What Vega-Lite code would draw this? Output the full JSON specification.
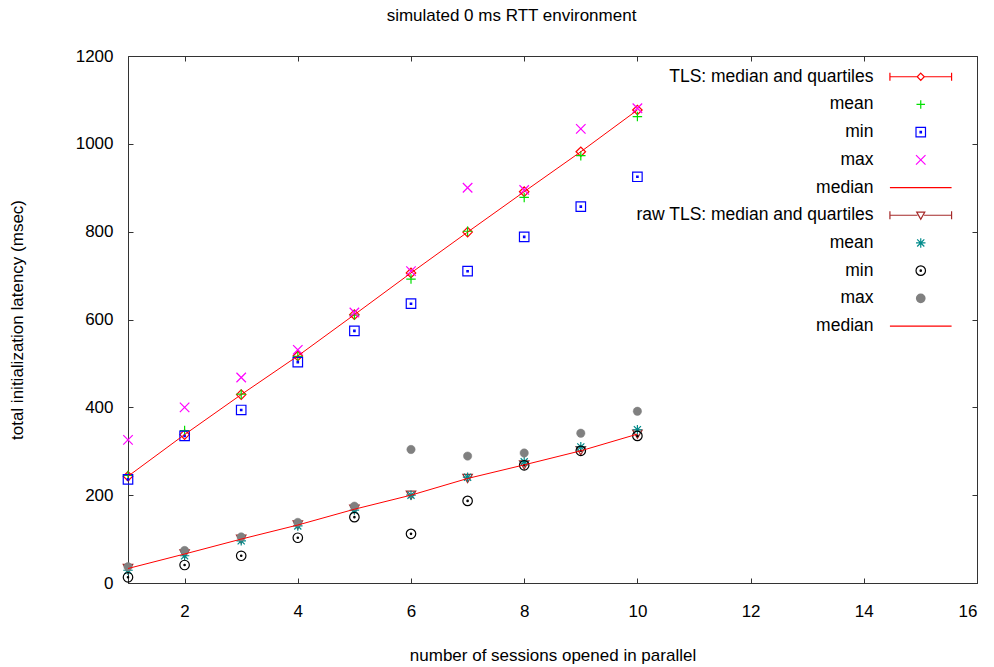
{
  "$schema": "https://vega.github.io/schema/vega-lite/v6.json",
  "autosize": "none",
  "width": 849,
  "height": 527,
  "padding": {"left": 128, "top": 56, "right": 17, "bottom": 84},
  "background": "white",
  "title": {"text": "simulated 0 ms RTT environment", "fontSize": 17, "fontWeight": "normal", "font": "Liberation Sans", "color": "#000", "anchor": "middle", "dx": -41, "baseline": "alphabetic", "offset": 9},
  "config": {
    "font": "Liberation Sans",
    "view": {"stroke": "#333", "strokeWidth": 1},
    "axis": {"grid": false, "domainColor": "#333", "tickColor": "#333", "labelColor": "#000", "titleColor": "#000", "labelFontSize": 17, "titleFontSize": 17, "titleFontWeight": "normal", "labelFont": "Liberation Sans", "titleFont": "Liberation Sans", "tickSize": -5}
  },
  "data": {"values": [
    {"n": 1, "key": "TLS: median and quartiles", "v": 243},
    {"n": 2, "key": "TLS: median and quartiles", "v": 338},
    {"n": 3, "key": "TLS: median and quartiles", "v": 429},
    {"n": 4, "key": "TLS: median and quartiles", "v": 517},
    {"n": 5, "key": "TLS: median and quartiles", "v": 611},
    {"n": 6, "key": "TLS: median and quartiles", "v": 706},
    {"n": 7, "key": "TLS: median and quartiles", "v": 799},
    {"n": 8, "key": "TLS: median and quartiles", "v": 891},
    {"n": 9, "key": "TLS: median and quartiles", "v": 982},
    {"n": 10, "key": "TLS: median and quartiles", "v": 1077},
    {"n": 1, "key": "TLS|mean", "v": 245},
    {"n": 2, "key": "TLS|mean", "v": 347},
    {"n": 3, "key": "TLS|mean", "v": 430},
    {"n": 4, "key": "TLS|mean", "v": 516},
    {"n": 5, "key": "TLS|mean", "v": 610},
    {"n": 6, "key": "TLS|mean", "v": 692},
    {"n": 7, "key": "TLS|mean", "v": 801},
    {"n": 8, "key": "TLS|mean", "v": 878},
    {"n": 9, "key": "TLS|mean", "v": 973},
    {"n": 10, "key": "TLS|mean", "v": 1062},
    {"n": 1, "key": "TLS|min", "v": 236},
    {"n": 2, "key": "TLS|min", "v": 335},
    {"n": 3, "key": "TLS|min", "v": 394},
    {"n": 4, "key": "TLS|min", "v": 503},
    {"n": 5, "key": "TLS|min", "v": 574},
    {"n": 6, "key": "TLS|min", "v": 636},
    {"n": 7, "key": "TLS|min", "v": 710},
    {"n": 8, "key": "TLS|min", "v": 788},
    {"n": 9, "key": "TLS|min", "v": 857},
    {"n": 10, "key": "TLS|min", "v": 925},
    {"n": 1, "key": "TLS|max", "v": 326},
    {"n": 2, "key": "TLS|max", "v": 400},
    {"n": 3, "key": "TLS|max", "v": 468},
    {"n": 4, "key": "TLS|max", "v": 531},
    {"n": 5, "key": "TLS|max", "v": 616},
    {"n": 6, "key": "TLS|max", "v": 710},
    {"n": 7, "key": "TLS|max", "v": 900},
    {"n": 8, "key": "TLS|max", "v": 895},
    {"n": 9, "key": "TLS|max", "v": 1034},
    {"n": 10, "key": "TLS|max", "v": 1081},
    {"n": 1, "key": "raw TLS: median and quartiles", "v": 33},
    {"n": 2, "key": "raw TLS: median and quartiles", "v": 66},
    {"n": 3, "key": "raw TLS: median and quartiles", "v": 100},
    {"n": 4, "key": "raw TLS: median and quartiles", "v": 132},
    {"n": 5, "key": "raw TLS: median and quartiles", "v": 168},
    {"n": 6, "key": "raw TLS: median and quartiles", "v": 200},
    {"n": 7, "key": "raw TLS: median and quartiles", "v": 238},
    {"n": 8, "key": "raw TLS: median and quartiles", "v": 269},
    {"n": 9, "key": "raw TLS: median and quartiles", "v": 301},
    {"n": 10, "key": "raw TLS: median and quartiles", "v": 339},
    {"n": 1, "key": "raw|mean", "v": 29},
    {"n": 2, "key": "raw|mean", "v": 62},
    {"n": 3, "key": "raw|mean", "v": 96},
    {"n": 4, "key": "raw|mean", "v": 130},
    {"n": 5, "key": "raw|mean", "v": 166},
    {"n": 6, "key": "raw|mean", "v": 200},
    {"n": 7, "key": "raw|mean", "v": 241},
    {"n": 8, "key": "raw|mean", "v": 276},
    {"n": 9, "key": "raw|mean", "v": 310},
    {"n": 10, "key": "raw|mean", "v": 349},
    {"n": 1, "key": "raw|min", "v": 13},
    {"n": 2, "key": "raw|min", "v": 41},
    {"n": 3, "key": "raw|min", "v": 62},
    {"n": 4, "key": "raw|min", "v": 103},
    {"n": 5, "key": "raw|min", "v": 150},
    {"n": 6, "key": "raw|min", "v": 112},
    {"n": 7, "key": "raw|min", "v": 187},
    {"n": 8, "key": "raw|min", "v": 268},
    {"n": 9, "key": "raw|min", "v": 301},
    {"n": 10, "key": "raw|min", "v": 335},
    {"n": 1, "key": "raw|max", "v": 37},
    {"n": 2, "key": "raw|max", "v": 74},
    {"n": 3, "key": "raw|max", "v": 105},
    {"n": 4, "key": "raw|max", "v": 138},
    {"n": 5, "key": "raw|max", "v": 175},
    {"n": 6, "key": "raw|max", "v": 304},
    {"n": 7, "key": "raw|max", "v": 289},
    {"n": 8, "key": "raw|max", "v": 296},
    {"n": 9, "key": "raw|max", "v": 341},
    {"n": 10, "key": "raw|max", "v": 391}
  ]},
  "resolve": {"axis": {"x": "independent", "y": "independent"}},
  "layer": [
    {
      "transform": [{"filter": "datum.key !== 'raw|max'"}],
      "mark": {"type": "point", "filled": false, "size": 90, "strokeWidth": 1.2, "opacity": 1},
      "encoding": {
        "x": {"field": "n", "type": "quantitative", "scale": {"domain": [1, 16], "nice": false, "zero": false},
              "axis": {"orient": "bottom", "values": [2, 4, 6, 8, 10, 12, 14, 16], "labelPadding": 25, "title": "number of sessions opened in parallel", "titlePadding": 28}},
        "y": {"field": "v", "type": "quantitative", "scale": {"domain": [0, 1200], "nice": false},
              "axis": {"orient": "left", "values": [0, 200, 400, 600, 800, 1000, 1200], "format": "d", "labelPadding": 20, "title": "total initialization latency (msec)", "titlePadding": 49}},
        "stroke": {"field": "key", "type": "nominal",
          "scale": {
            "domain": ["TLS: median and quartiles", "TLS|mean", "TLS|min", "TLS|max", "TLS|median", "raw TLS: median and quartiles", "raw|mean", "raw|min", "raw|max", "raw|median"],
            "range": ["#ff0000", "#00e000", "#0000ff", "#ff00ff", "#ff0000", "#a52a2a", "#008b8b", "#000000", "#808080", "#ff0000"]
          },
          "legend": {
            "title": null,
            "orient": "none",
            "legendX": 784,
            "legendY": 12,
            "padding": 0,
            "rowPadding": 8.7,
            "symbolSize": 90,
            "symbolStrokeWidth": 1.2,
            "symbolType": {"expr": "datum.value === 'TLS: median and quartiles' ? 'M-6.5,0H-0.75M0.75,0H6.5M-6.5,-0.85V0.85M6.5,-0.85V0.85M0,-0.75L0.75,0L0,0.75L-0.75,0Z' : datum.value === 'raw TLS: median and quartiles' ? 'M-6.5,0H-0.7M0.7,0H6.5M-6.5,-0.85V0.85M6.5,-0.85V0.85M-0.85,-0.65L0.85,-0.65L0,0.85Z' : (datum.value === 'TLS|median' || datum.value === 'raw|median') ? 'M-6.5,0H6.5' : datum.value === 'TLS|mean' ? 'M-0.9,0H0.9M0,-0.9V0.9' : datum.value === 'TLS|min' ? 'M-1,-1H1V1H-1ZM-0.15,-0.15H0.15V0.15H-0.15Z' : datum.value === 'TLS|max' ? 'M-1,-1L1,1M-1,1L1,-1' : datum.value === 'raw|mean' ? 'M-1,0H1M0,-1V1M-0.75,-0.75L0.75,0.75M-0.75,0.75L0.75,-0.75' : datum.value === 'raw|min' ? 'M-1,0A1,1,0,1,0,1,0A1,1,0,1,0,-1,0ZM-0.15,0A0.15,0.15,0,1,0,0.15,0A0.15,0.15,0,1,0,-0.15,0Z' : 'M-0.9,0A0.9,0.9,0,1,0,0.9,0A0.9,0.9,0,1,0,-0.9,0ZM-0.7,0A0.7,0.7,0,1,0,0.7,0A0.7,0.7,0,1,0,-0.7,0ZM-0.5,0A0.5,0.5,0,1,0,0.5,0A0.5,0.5,0,1,0,-0.5,0ZM-0.3,0A0.3,0.3,0,1,0,0.3,0A0.3,0.3,0,1,0,-0.3,0ZM-0.12,0A0.12,0.12,0,1,0,0.12,0A0.12,0.12,0,1,0,-0.12,0Z'"},
            "symbolFillColor": {"expr": "datum.value === 'raw|max' ? '#808080' : 'transparent'"},
            "labelAlign": "right",
            "labelOffset": -56,
            "labelLimit": 400,
            "labelFontSize": 17.5,
            "labelFont": "Liberation Sans",
            "labelColor": "#000",
            "labelExpr": "indexof(datum.label, '|') >= 0 ? split(datum.label, '|')[1] : datum.label"
          }
        },
        "shape": {"field": "key", "type": "nominal", "legend": null,
          "scale": {
            "domain": ["TLS: median and quartiles", "TLS|mean", "TLS|min", "TLS|max", "raw TLS: median and quartiles", "raw|mean", "raw|min", "raw|max"],
            "range": ["diamond", "M-1,0H1M0,-1V1", "M-1,-1H1V1H-1ZM-0.15,-0.15H0.15V0.15H-0.15Z", "M-1,-1L1,1M-1,1L1,-1", "triangle-down", "M-1,0H1M0,-1V1M-0.75,-0.75L0.75,0.75M-0.75,0.75L0.75,-0.75", "M-1,0A1,1,0,1,0,1,0A1,1,0,1,0,-1,0ZM-0.15,0A0.15,0.15,0,1,0,0.15,0A0.15,0.15,0,1,0,-0.15,0Z", "circle"]
          }
        }
      }
    },
    {
      "transform": [{"filter": "datum.key === 'raw|max'"}],
      "mark": {"type": "point", "filled": true, "fill": "#808080", "size": 70, "strokeWidth": 0.5, "opacity": 1},
      "encoding": {
        "x": {"field": "n", "type": "quantitative", "axis": null},
        "y": {"field": "v", "type": "quantitative", "axis": null},
        "stroke": {"field": "key", "type": "nominal", "legend": null},
        "shape": {"field": "key", "type": "nominal", "legend": null}
      }
    },
    {
      "transform": [{"filter": "datum.key === 'TLS: median and quartiles'"}],
      "mark": {"type": "line", "strokeWidth": 1},
      "encoding": {
        "x": {"field": "n", "type": "quantitative", "axis": {"orient": "top", "labels": false, "title": null, "domain": false, "values": [2, 4, 6, 8, 10, 12, 14, 16]}},
        "y": {"field": "v", "type": "quantitative", "axis": {"orient": "right", "labels": false, "title": null, "domain": false, "values": [0, 200, 400, 600, 800, 1000, 1200]}},
        "stroke": {"datum": "TLS|median", "legend": null}
      }
    },
    {
      "transform": [{"filter": "datum.key === 'raw TLS: median and quartiles'"}],
      "mark": {"type": "line", "strokeWidth": 1},
      "encoding": {
        "x": {"field": "n", "type": "quantitative", "axis": null},
        "y": {"field": "v", "type": "quantitative", "axis": null},
        "stroke": {"datum": "raw|median", "legend": null}
      }
    }
  ]
}
